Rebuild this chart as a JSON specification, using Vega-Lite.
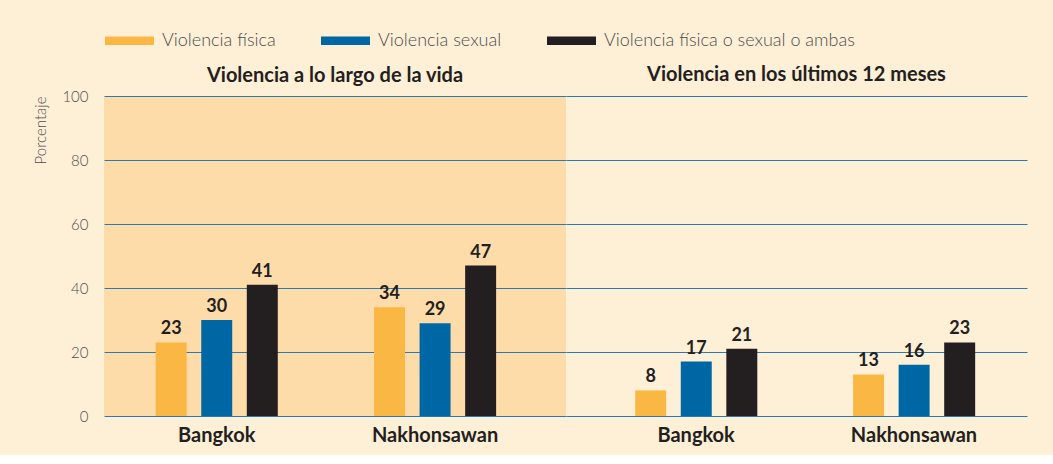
{
  "$schema": "https://vega.github.io/schema/vega-lite/v6.json",
  "background": "#feefd7",
  "padding": {"left": 33, "top": 16, "right": 27, "bottom": 10},
  "spacing": 0,
  "data": {"values": [
    {"periodo": "vida", "ciudad": "Bangkok", "tipo": "Violencia física", "valor": 23},
    {"periodo": "vida", "ciudad": "Bangkok", "tipo": "Violencia sexual", "valor": 30},
    {"periodo": "vida", "ciudad": "Bangkok", "tipo": "Violencia física o sexual o ambas", "valor": 41},
    {"periodo": "vida", "ciudad": "Nakhonsawan", "tipo": "Violencia física", "valor": 34},
    {"periodo": "vida", "ciudad": "Nakhonsawan", "tipo": "Violencia sexual", "valor": 29},
    {"periodo": "vida", "ciudad": "Nakhonsawan", "tipo": "Violencia física o sexual o ambas", "valor": 47},
    {"periodo": "12m", "ciudad": "Bangkok", "tipo": "Violencia física", "valor": 8},
    {"periodo": "12m", "ciudad": "Bangkok", "tipo": "Violencia sexual", "valor": 17},
    {"periodo": "12m", "ciudad": "Bangkok", "tipo": "Violencia física o sexual o ambas", "valor": 21},
    {"periodo": "12m", "ciudad": "Nakhonsawan", "tipo": "Violencia física", "valor": 13},
    {"periodo": "12m", "ciudad": "Nakhonsawan", "tipo": "Violencia sexual", "valor": 16},
    {"periodo": "12m", "ciudad": "Nakhonsawan", "tipo": "Violencia física o sexual o ambas", "valor": 23}
  ]},
  "config": {
    "font": "Lato",
    "view": {"stroke": null},
    "axis": {"gridColor": "#2a7bb3", "gridWidth": 1.2, "gridOpacity": 1},
    "title": {"font": "Lato", "fontSize": 20, "fontWeight": "bold", "color": "#231f20"}
  },
  "hconcat": [
    {
      "width": 462,
      "height": 320,
      "view": {"fill": "#fedcaa", "stroke": null},
      "title": {"text": "Violencia a lo largo de la vida", "offset": 3},
      "transform": [{"filter": "datum.periodo === 'vida'"}],
      "encoding": {
        "x": {"field": "ciudad", "type": "nominal", "sort": ["Bangkok", "Nakhonsawan"],
              "scale": {"paddingInner": 0.374, "paddingOuter": 0.245, "align": 0.415},
              "axis": {"title": null, "labelAngle": 0, "domain": false, "ticks": false, "labelPadding": 9,
                       "labelFontSize": 20, "labelFontWeight": "bold", "labelColor": "#231f20", "labelFont": "Lato"}},
        "xOffset": {"field": "tipo", "type": "nominal",
                    "sort": ["Violencia física", "Violencia sexual", "Violencia física o sexual o ambas"],
                    "scale": {"paddingInner": 0.32, "paddingOuter": 0.16}},
        "y": {"field": "valor", "type": "quantitative",
              "scale": {"domain": [0, 100]},
              "axis": {"values": [0, 20, 40, 60, 80, 100], "title": "Porcentaje", "titleAnchor": "end",
                       "titleFontSize": 15, "titleFontWeight": 300, "titleColor": "#4d4d4d", "titlePadding": 13,
                       "labelFontSize": 15, "labelFontWeight": 300, "labelColor": "#4d4d4d", "labelPadding": 16,
                       "domain": false, "ticks": false, "grid": true}}
      },
      "layer": [
        {"mark": {"type": "bar"},
         "encoding": {"color": {"field": "tipo", "type": "nominal",
            "sort": ["Violencia física", "Violencia sexual", "Violencia física o sexual o ambas"],
            "scale": {"domain": ["Violencia física", "Violencia sexual", "Violencia física o sexual o ambas"], "range": ["#fbb744", "#0067a5", "#231f20"]},
            "legend": {"title": null, "orient": "none", "direction": "horizontal", "legendX": 1, "legendY": -80,
                       "symbolType": "M-1,-0.17H1V0.17H-1Z", "symbolSize": 2401, "symbolStrokeWidth": 0, "symbolOpacity": 1,
                       "labelFontSize": 18, "labelFontWeight": 300, "labelColor": "#4d4d4d", "labelOffset": 8, "columnPadding": 45, "labelLimit": 400}}}},
        {"mark": {"type": "text", "baseline": "alphabetic", "dy": -8, "fontSize": 18, "fontWeight": "bold", "color": "#231f20"},
         "encoding": {"text": {"field": "valor", "type": "quantitative"}}}
      ]
    },
    {
      "width": 461,
      "height": 320,
      "view": {"stroke": null},
      "title": {"text": "Violencia en los últimos 12 meses", "offset": 11},
      "transform": [{"filter": "datum.periodo === '12m'"}],
      "encoding": {
        "x": {"field": "ciudad", "type": "nominal", "sort": ["Bangkok", "Nakhonsawan"],
              "scale": {"paddingInner": 0.374, "paddingOuter": 0.245, "align": 0.58},
              "axis": {"title": null, "labelAngle": 0, "domain": false, "ticks": false, "labelPadding": 9,
                       "labelFontSize": 20, "labelFontWeight": "bold", "labelColor": "#231f20", "labelFont": "Lato"}},
        "xOffset": {"field": "tipo", "type": "nominal",
                    "sort": ["Violencia física", "Violencia sexual", "Violencia física o sexual o ambas"],
                    "scale": {"paddingInner": 0.32, "paddingOuter": 0.16}},
        "y": {"field": "valor", "type": "quantitative",
              "scale": {"domain": [0, 100]},
              "axis": {"values": [0, 20, 40, 60, 80, 100], "title": null, "labels": false,
                       "domain": false, "ticks": false, "grid": true}}
      },
      "layer": [
        {"mark": {"type": "bar"},
         "encoding": {"color": {"field": "tipo", "type": "nominal",
            "sort": ["Violencia física", "Violencia sexual", "Violencia física o sexual o ambas"]}}},
        {"mark": {"type": "text", "baseline": "alphabetic", "dy": -8, "fontSize": 18, "fontWeight": "bold", "color": "#231f20"},
         "encoding": {"text": {"field": "valor", "type": "quantitative"}}}
      ]
    }
  ]
}
